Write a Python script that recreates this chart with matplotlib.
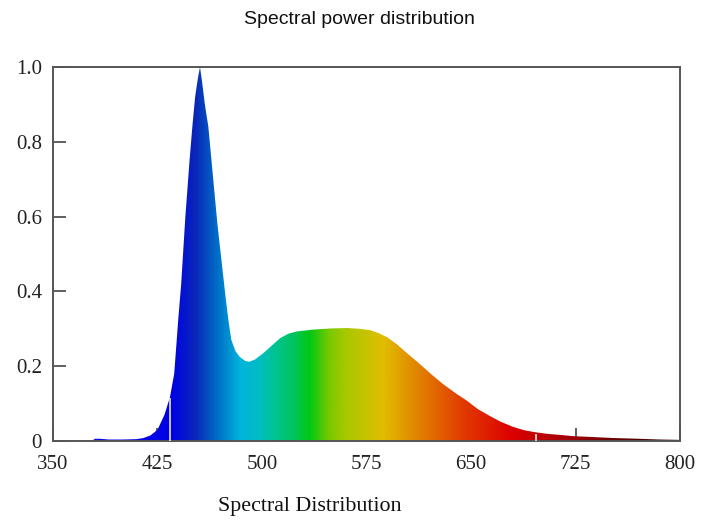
import numpy as np
import matplotlib
matplotlib.use("Agg")
import matplotlib.pyplot as plt
from matplotlib.colors import LinearSegmentedColormap
from matplotlib.patches import Polygon

# spectrum (nm, relative power)
wavelength = [378, 380, 384, 390, 400, 410, 415, 420, 425, 430, 434, 437, 440, 442,
              445, 448, 450, 452, 454, 455.5, 457, 459, 461.5, 464, 466, 468, 471,
              474, 476, 478, 481, 484, 488, 491, 495, 501, 507, 513, 519, 525, 537,
              550, 561, 570, 578, 584, 590, 597, 604, 612, 621, 630, 640, 647, 655,
              663, 671, 680, 688, 695, 705, 715, 723, 735, 752, 770, 785, 800]
power = [0.0, 0.006, 0.006, 0.004, 0.004, 0.005, 0.008, 0.015, 0.03, 0.07, 0.118,
         0.18, 0.33, 0.42, 0.60, 0.75, 0.84, 0.92, 0.97, 1.0, 0.96, 0.90, 0.84,
         0.74, 0.66, 0.58, 0.48, 0.38, 0.32, 0.27, 0.24, 0.225, 0.214, 0.212, 0.218,
         0.235, 0.255, 0.275, 0.287, 0.293, 0.298, 0.301, 0.302, 0.300, 0.296,
         0.288, 0.277, 0.258, 0.235, 0.21, 0.18, 0.152, 0.125, 0.108, 0.085, 0.068,
         0.052, 0.038, 0.029, 0.024, 0.019, 0.016, 0.013, 0.011, 0.008, 0.006,
         0.004, 0.003]

# colours along the wavelength axis
color_nm = [350, 380, 434, 452, 468, 484, 496, 508, 522, 534, 548, 560, 587,
            608, 644, 680, 716, 752, 800]
color_rgb = ['#1a1aef', '#1010ec', '#0000e6', '#0a28b8', '#0070c8', '#00b4dc',
             '#00bcc8', '#00c396', '#00c460', '#00c814', '#78c800', '#a8c800',
             '#e1be00', '#e18c00', '#e13c00', '#dc0000', '#aa000a', '#6e0000',
             '#2a0000']

xticks = [350, 425, 500, 575, 650, 725, 800]
yticks = [0, 0.2, 0.4, 0.6, 0.8, 1.0]
ytick_labels = ['0', '0.2', '0.4', '0.6', '0.8', '1.0']
streak_nm = [434, 697]

fig = plt.figure(figsize=(7.05, 5.24), dpi=100)
ax = fig.add_axes([53/705, 1 - 441/524, 627/705, 374/524])

stops = [(n - 350) / 450 for n in color_nm]
cmap = LinearSegmentedColormap.from_list('spec', list(zip(stops, color_rgb)))
grad = np.linspace(0, 1, 900).reshape(1, -1)
im = ax.imshow(grad, cmap=cmap, aspect='auto', extent=[350, 800, 0, 1.0],
               origin='lower', zorder=2, interpolation='bilinear')
verts = list(zip(wavelength, power)) + [(wavelength[-1], 0), (wavelength[0], 0)]
clip = Polygon(verts, closed=True, transform=ax.transData, facecolor='none',
               edgecolor='none')
ax.add_patch(clip)
im.set_clip_path(clip)

# thin light streaks in the original
ax.vlines(streak_nm, 0, np.interp(streak_nm, wavelength, power) - 0.003,
          colors='#e8e8e8', lw=1.2, zorder=3)

ax.set_xlim(350, 800)
ax.set_ylim(0, 1.0)
ax.set_axisbelow(True)
ax.set_xticks(xticks)
ax.set_yticks(yticks)
ax.set_yticklabels(ytick_labels)
ax.tick_params(direction='in', length=9.5, width=1.2, color='#444444',
               labelsize=15, pad=8)
ax.tick_params(axis='x', pad=10)
ax.tick_params(top=False, right=False)
for lab in ax.get_xticklabels() + ax.get_yticklabels():
    lab.set_family('Liberation Serif')
    lab.set_color('#222222')
for s in ax.spines.values():
    s.set_color('#555555')
    s.set_linewidth(1.4)

fig.text(359/705, 1 - 20/524, 'Spectral power distribution', ha='center',
         va='center', fontsize=14, family='Liberation Sans', color='#111111')
fig.text(310/705, 1 - 507/524, 'Spectral Distribution', ha='center',
         va='center', fontsize=15.8, family='Liberation Serif', color='#111111')

fig.savefig('out.png', dpi=100)
